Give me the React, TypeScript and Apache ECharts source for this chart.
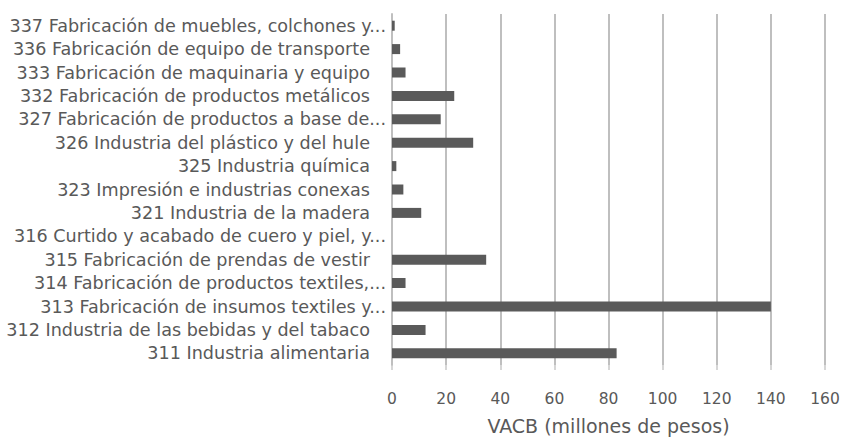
import React, { useEffect, useRef } from "react";
import * as echarts from "echarts";

const categories = [
  "311 Industria alimentaria",
  "312 Industria de las bebidas y del tabaco",
  "313 Fabricación de insumos textiles y...",
  "314 Fabricación de productos textiles,...",
  "315 Fabricación de prendas de vestir",
  "316 Curtido y acabado de cuero y piel, y...",
  "321 Industria de la madera",
  "323 Impresión e industrias conexas",
  "325 Industria química",
  "326 Industria del plástico y del hule",
  "327 Fabricación de productos a base de...",
  "332 Fabricación de productos metálicos",
  "333 Fabricación de maquinaria y equipo",
  "336 Fabricación de equipo de transporte",
  "337 Fabricación de muebles, colchones y...",
];

const values = [83, 12.4, 140, 5, 34.8, 0, 10.8, 4.2, 1.6, 30, 18, 23, 5, 3, 1];

const xTicks = { min: 0, max: 160, interval: 20 };
const axisTitle = "VACB (millones de pesos)";

export default function App() {
  const ref = useRef<HTMLDivElement>(null);
  useEffect(() => {
    if (!ref.current) return;
    const chart = echarts.init(ref.current, null, { renderer: "svg" });
    const font = "'DejaVu Sans', sans-serif";
    const color = "#595959";
    const ySize = 17.6;
    chart.setOption({
      animation: false,
      backgroundColor: "#ffffff",
      grid: { left: 392, right: 22, top: 14, bottom: 65, containLabel: false },
      xAxis: {
        type: "value",
        min: xTicks.min,
        max: xTicks.max,
        interval: xTicks.interval,
        name: axisTitle,
        nameLocation: "middle",
        nameGap: 51,
        nameTextStyle: { fontFamily: font, fontSize: 19, color },
        axisLine: { show: false },
        axisTick: { show: true, length: 5, lineStyle: { color: "#c8c8c8", width: 1.5 } },
        axisLabel: { margin: 26, fontFamily: font, fontSize: 15.5, color },
        splitLine: { show: true, lineStyle: { color: "#bfbfbf", width: 2 } },
      },
      yAxis: {
        type: "category",
        data: categories,
        axisLine: { show: true, lineStyle: { color: "#bfbfbf", width: 2 } },
        axisTick: { show: false },
        axisLabel: {
          interval: 0,
          margin: 6,
          fontFamily: font,
          fontSize: ySize,
          color,
          formatter: (v: string) => (v.endsWith("...") ? `{t|${v}}` : `{n|${v}}`),
          rich: {
            t: { fontFamily: font, fontSize: ySize, color },
            n: { fontFamily: font, fontSize: ySize, color, padding: [0, 16, 0, 0] },
          },
        },
      },
      series: [
        {
          type: "bar",
          data: values,
          barWidth: 10,
          itemStyle: { color: "#5a5a5a" },
        },
      ],
    });
    return () => chart.dispose();
  }, []);
  return (
    <div
      ref={ref}
      style={{ position: "fixed", left: 0, top: 0, width: 847, height: 440 }}
    />
  );
}
